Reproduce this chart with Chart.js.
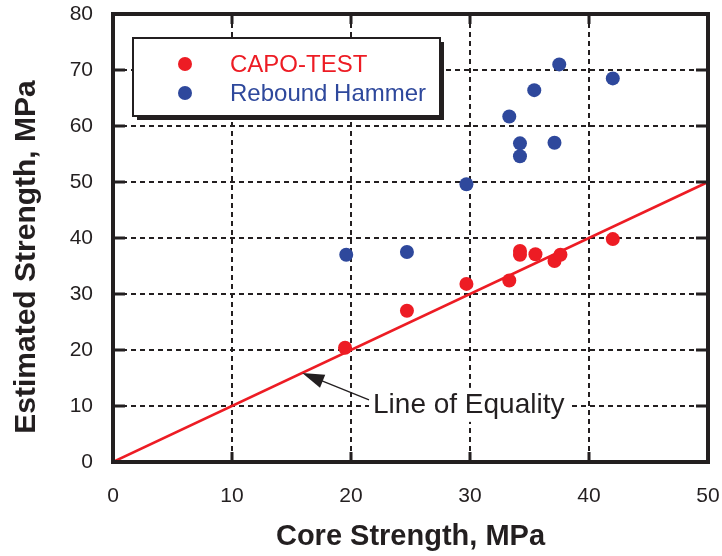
<!DOCTYPE html>
<html>
<head>
<meta charset="utf-8">
<script src="https://cdn.jsdelivr.net/npm/chart.js@4"></script>
<style>
  html, body { margin: 0; padding: 0; background: #fff; }
  #wrap { width: 722px; height: 556px; }
</style>
</head>
<body>
<div id="wrap"><canvas id="chart" width="722" height="556"></canvas></div>
<script>
// data
const coreCapo   = [19.5, 24.7, 29.7, 33.3, 34.2, 34.2, 35.5, 37.1, 37.6, 42.0];
const estCapo    = [20.4, 27.0, 31.8, 32.4, 37.7, 37.0, 37.1, 35.9, 37.0, 39.8];
const coreHammer = [19.6, 24.7, 29.7, 33.3, 34.2, 34.2, 35.4, 37.1, 37.5, 42.0];
const estHammer  = [37.0, 37.5, 49.6, 61.7, 56.9, 54.6, 66.4, 57.0, 71.0, 68.5];
const equalityX  = [0, 50];
const xTicks = [0, 10, 20, 30, 40, 50];
const yTicks = [0, 10, 20, 30, 40, 50, 60, 70, 80];

const INK = '#231f20';
const RED = '#ed1c24';
const BLUE = '#2e489c';
const FONT = '"Liberation Sans", Arial, sans-serif';

const toPts = (xs, ys) => xs.map((x, i) => ({ x: x, y: ys[i] }));

// frame, inward ticks, legend box, y title and the arrow note
const extras = {
    id: 'extras',
    afterDatasetsDraw(chart) {
        const ctx = chart.ctx;
        const a = chart.chartArea;
        const xs = chart.scales.x, ys = chart.scales.y;
        ctx.save();

        // y title (sits a little below the plot centre in the original)
        ctx.save();
        ctx.translate(27, 257);
        ctx.rotate(-Math.PI / 2);
        ctx.font = 'bold 30px ' + FONT;
        ctx.fillStyle = INK;
        ctx.textAlign = 'center';
        ctx.textBaseline = 'middle';
        ctx.fillText('Estimated Strength, MPa', 0, 0);
        ctx.restore();

        // note "Line of Equality"
        const tx = xs.getPixelForValue(21.85), ty = ys.getPixelForValue(10.2);
        ctx.font = '28px ' + FONT;
        const label = 'Line of Equality';
        const w = ctx.measureText(label).width;
        ctx.fillStyle = '#fff';
        ctx.fillRect(tx - 4, ty - 17, w + 8, 34);
        ctx.fillStyle = INK;
        ctx.textBaseline = 'middle';
        ctx.fillText(label, tx, ty);

        const hx = xs.getPixelForValue(15.9), hy = ys.getPixelForValue(15.9);
        const sx = tx - 4, sy = ty - 5;
        const ang = Math.atan2(hy - sy, hx - sx);
        ctx.strokeStyle = INK;
        ctx.lineWidth = 1.3;
        ctx.beginPath();
        ctx.moveTo(sx, sy);
        ctx.lineTo(hx - 18 * Math.cos(ang), hy - 18 * Math.sin(ang));
        ctx.stroke();
        ctx.fillStyle = INK;
        ctx.beginPath();
        ctx.moveTo(hx, hy);
        ctx.lineTo(hx - 22 * Math.cos(ang) + 7 * Math.sin(ang), hy - 22 * Math.sin(ang) - 7 * Math.cos(ang));
        ctx.lineTo(hx - 22 * Math.cos(ang) - 7 * Math.sin(ang), hy - 22 * Math.sin(ang) + 7 * Math.cos(ang));
        ctx.closePath();
        ctx.fill();

        // inward ticks
        ctx.strokeStyle = INK;
        ctx.lineWidth = 3;
        yTicks.forEach(v => {
            const p = ys.getPixelForValue(v);
            ctx.beginPath();
            ctx.moveTo(a.left, p); ctx.lineTo(a.left + 12, p);
            ctx.moveTo(a.right, p); ctx.lineTo(a.right - 12, p);
            ctx.stroke();
        });
        xTicks.forEach(v => {
            const p = xs.getPixelForValue(v);
            ctx.beginPath();
            ctx.moveTo(p, a.bottom); ctx.lineTo(p, a.bottom - 10);
            ctx.moveTo(p, a.top); ctx.lineTo(p, a.top + 10);
            ctx.stroke();
        });

        // frame
        ctx.lineWidth = 4;
        ctx.strokeRect(a.left, a.top, a.right - a.left, a.bottom - a.top);

        // legend box with shadow
        const lx = 133, ly = 38, lw = 307, lh = 78;
        ctx.fillStyle = INK;
        ctx.fillRect(lx + 4, ly + 4, lw, lh);
        ctx.fillStyle = '#fff';
        ctx.fillRect(lx, ly, lw, lh);
        ctx.lineWidth = 2;
        ctx.strokeRect(lx, ly, lw, lh);
        const items = [chart.data.datasets[0], chart.data.datasets[1]];
        items.forEach((ds, i) => {
            const y = 64 + i * 29;
            ctx.fillStyle = ds.backgroundColor;
            ctx.beginPath();
            ctx.arc(185, y, 7, 0, Math.PI * 2);
            ctx.fill();
            ctx.font = '24px ' + FONT;
            ctx.textBaseline = 'middle';
            ctx.fillText(ds.label, 230, y + 1);
        });
        ctx.restore();
    }
};

new Chart(document.getElementById('chart'), {
    type: 'scatter',
    data: {
        datasets: [
            {
                label: 'CAPO-TEST',
                data: toPts(coreCapo, estCapo),
                backgroundColor: RED,
                borderWidth: 0,
                pointRadius: 7,
                order: 1
            },
            {
                label: 'Rebound Hammer',
                data: toPts(coreHammer, estHammer),
                backgroundColor: BLUE,
                borderWidth: 0,
                pointRadius: 7,
                order: 2
            },
            {
                type: 'line',
                label: 'Line of Equality',
                data: toPts(equalityX, equalityX),
                borderColor: RED,
                borderWidth: 2.5,
                pointRadius: 0,
                fill: false,
                order: 3
            }
        ]
    },
    options: {
        responsive: false,
        animation: false,
        layout: { padding: { top: 14, right: 14, left: 0, bottom: 0 } },
        plugins: { legend: { display: false }, tooltip: { enabled: false } },
        scales: {
            x: {
                type: 'linear',
                min: 0, max: 50,
                afterFit: s => { s.height = 94; s.paddingLeft = 0; s.paddingRight = 0; },
                afterBuildTicks: s => { s.ticks = xTicks.map(v => ({ value: v })); },
                ticks: { color: INK, padding: 22, maxRotation: 0, autoSkip: false,
                         font: { family: FONT, size: 21 } },
                grid: { color: INK, lineWidth: 2, drawTicks: false, borderDash: [5, 4] },
                border: { display: false, dash: [5, 4] },
                title: { display: true, text: 'Core Strength, MPa', color: INK,
                         padding: { top: 0, bottom: 2 },
                         font: { family: FONT, size: 29, weight: 'bold' } }
            },
            y: {
                type: 'linear',
                min: 0, max: 80,
                afterFit: s => { s.width = 113; s.paddingTop = 0; s.paddingBottom = 0; },
                afterBuildTicks: s => { s.ticks = yTicks.map(v => ({ value: v })); },
                ticks: { color: INK, padding: 20,
                         font: { family: FONT, size: 21 } },
                grid: { color: INK, lineWidth: 2, drawTicks: false, borderDash: [5, 4] },
                border: { display: false, dash: [5, 4] },
                title: { display: false }
            }
        }
    },
    plugins: [extras]
});
</script>
</body>
</html>
